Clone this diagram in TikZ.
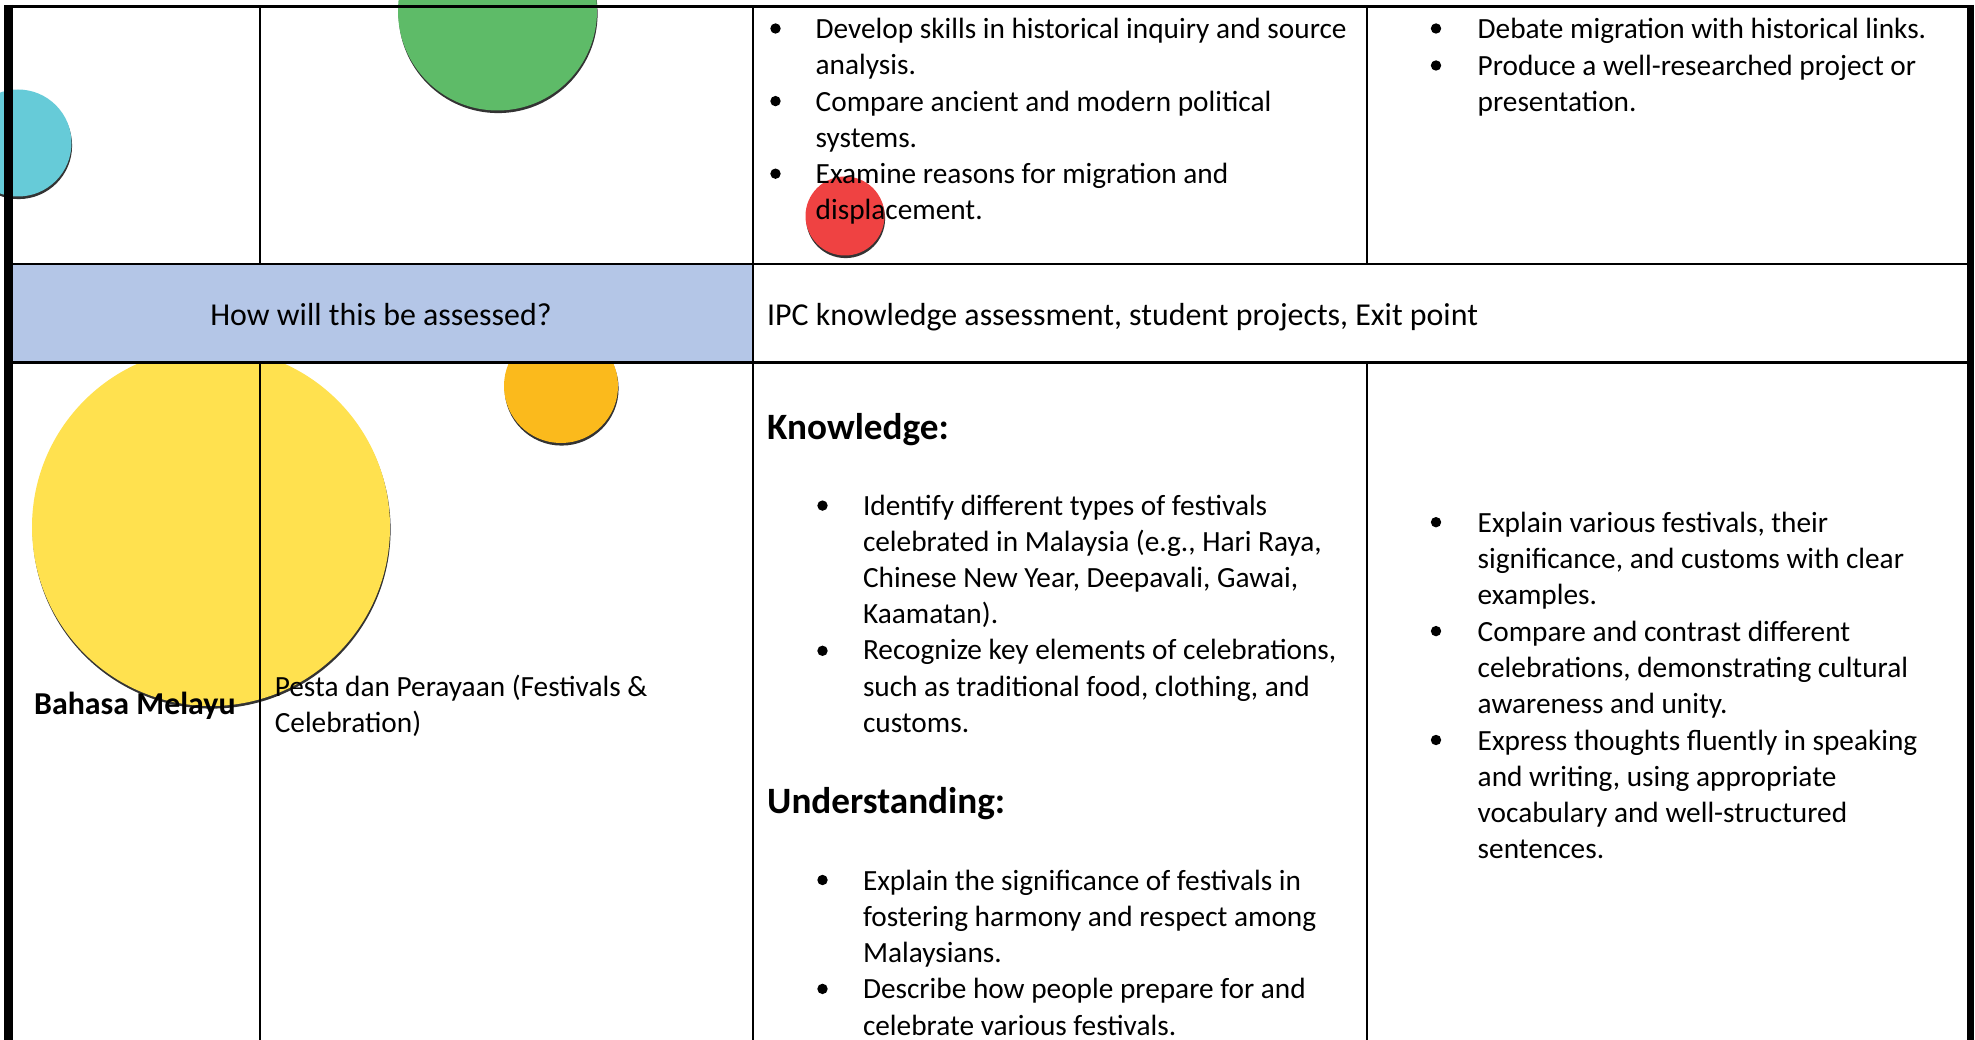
\documentclass[tikz,border=0pt]{standalone}
\usepackage{fontspec}
\setmainfont{Carlito}
\usetikzlibrary{shadows}
\definecolor{cyanc}{RGB}{102,203,216}
\definecolor{greenc}{RGB}{94,187,104}
\definecolor{redc}{RGB}{239,66,66}
\definecolor{yellowc}{RGB}{255,225,79}
\definecolor{orangec}{RGB}{251,186,28}
\definecolor{bluec}{RGB}{180,198,231}
\tikzset{
  ball/.style={circle, inner sep=0pt, draw=none,
    drop shadow={shadow xshift=0.6pt, shadow yshift=-2.6pt, fill=black, opacity=0.8}},
  t/.style={anchor=base west, inner sep=0pt, font=\fontsize{29.3}{36.3}\selectfont},
  tl/.style={inner sep=0pt, font=\fontsize{31.9}{38}\selectfont},
  tb/.style={anchor=base west, inner sep=0pt, font=\fontsize{31.9}{38}\selectfont\bfseries},
  th/.style={anchor=base west, inner sep=0pt, font=\fontsize{37.2}{44}\selectfont\bfseries},
  bdot/.style={circle, fill=black, inner sep=0pt, minimum size=10.4pt},
  rule/.style={line width=2.4pt, black},
}
\begin{document}
\begin{tikzpicture}[x=1pt, y=-1pt]
\useasboundingbox (0,0) rectangle (1975,1040);
\clip (0,0) rectangle (1975,1040);
\fill[white] (0,0) rectangle (1975,1040);
% decorative circles
\node[ball, fill=cyanc, minimum size=107pt] (cyanball) at (18,143) {};
\node[ball, fill=greenc, minimum size=199pt] (greenball) at (497.5,11) {};
\node[ball, fill=redc, minimum size=79pt] (redball) at (845,216) {};
\node[ball, fill=yellowc, minimum size=358pt] (yellowball) at (211,527) {};
\node[ball, fill=orangec, minimum size=114pt] (orangeball) at (561,386) {};
% blue header cell
\fill[bluec] (13,264.3) rectangle (753,362.3);
% table rules
\draw[line width=2.7pt] (4,6.3) -- (1974,6.3);
\draw[line width=9pt] (8.5,5) -- (8.5,1040);
\draw[line width=7.3pt] (1970.3,5) -- (1970.3,1040);
\draw[line width=2.2pt] (13,264.3) -- (1967,264.3);
\draw[line width=3pt] (13,362.3) -- (1967,362.3);
\draw[rule] (259.7,6) -- (259.7,264.3);
\draw[rule] (259.7,362.3) -- (259.7,1040);
\draw[rule] (753,6) -- (753,1040);
\draw[rule] (1367,6) -- (1367,264.3);
\draw[rule] (1367,362.3) -- (1367,1040);
% row 1, column 3
\node[bdot] (b1) at (775.5,28.5) {};
\node[bdot] (b2) at (775.5,101.1) {};
\node[bdot] (b3) at (775.5,173.7) {};
\node[t] (a1) at (815.5,38.5) {Develop skills in historical inquiry and source};
\node[t] (a2) at (815.5,74.8) {analysis.};
\node[t] (a3) at (815.5,111.1) {Compare ancient and modern political};
\node[t] (a4) at (815.5,147.4) {systems.};
\node[t] (a5) at (815.5,183.7) {Examine reasons for migration and};
\node[t] (a6) at (815.5,220) {displacement.};
% row 1, column 4
\node[bdot] (b4) at (1436,28.5) {};
\node[bdot] (b5) at (1436,65.5) {};
\node[t] (c1) at (1477.5,38.5) {Debate migration with historical links.};
\node[t] (c2) at (1477.5,75.5) {Produce a well-researched project or};
\node[t] (c3) at (1477.5,112) {presentation.};
% assessment row
\node[tl, anchor=base] (assessq) at (381,325.2) {How will this be assessed?};
\node[tl, anchor=base west] (assessa) at (767,325.2) {IPC knowledge assessment, student projects, Exit point};
% row 3
\node[tb] (subject) at (34,714) {Bahasa Melayu};
\node[t] (topic1) at (274.6,696) {Pesta dan Perayaan (Festivals \&};
\node[t] (topic2) at (274.6,732.3) {Celebration)};
\node[th] (khead) at (767,439) {Knowledge:};
\node[bdot] (b6) at (822.5,505.6) {};
\node[bdot] (b7) at (822.5,650.8) {};
\node[t] (k1) at (862.8,515.6) {Identify different types of festivals};
\node[t] (k2) at (862.8,551.4) {celebrated in Malaysia (e.g., Hari Raya,};
\node[t] (k3) at (862.8,587.2) {Chinese New Year, Deepavali, Gawai,};
\node[t] (k4) at (862.8,623.5) {Kaamatan).};
\node[t] (k5) at (862.8,659.8) {Recognize key elements of celebrations,};
\node[t] (k6) at (862.8,696.1) {such as traditional food, clothing, and};
\node[t] (k7) at (862.8,732.4) {customs.};
\node[th] (uhead) at (767,813) {Understanding:};
\node[bdot] (b8) at (822.5,880) {};
\node[bdot] (b9) at (822.5,988.9) {};
\node[t] (u1) at (862.8,890) {Explain the significance of festivals in};
\node[t] (u2) at (862.8,926.3) {fostering harmony and respect among};
\node[t] (u3) at (862.8,962.6) {Malaysians.};
\node[t] (u4) at (862.8,998.9) {Describe how people prepare for and};
\node[t] (u5) at (862.8,1035.2) {celebrate various festivals.};
% row 3, column 4
\node[bdot] (b10) at (1436,522.2) {};
\node[bdot] (b11) at (1436,631.1) {};
\node[bdot] (b12) at (1436,740) {};
\node[t] (s1) at (1477.5,532.2) {Explain various festivals, their};
\node[t] (s2) at (1477.5,568.5) {significance, and customs with clear};
\node[t] (s3) at (1477.5,604.8) {examples.};
\node[t] (s4) at (1477.5,641.1) {Compare and contrast different};
\node[t] (s5) at (1477.5,677.4) {celebrations, demonstrating cultural};
\node[t] (s6) at (1477.5,713.7) {awareness and unity.};
\node[t] (s7) at (1477.5,750) {Express thoughts fluently in speaking};
\node[t] (s8) at (1477.5,786.3) {and writing, using appropriate};
\node[t] (s9) at (1477.5,822.6) {vocabulary and well-structured};
\node[t] (s10) at (1477.5,858.9) {sentences.};
\end{tikzpicture}
\end{document}
